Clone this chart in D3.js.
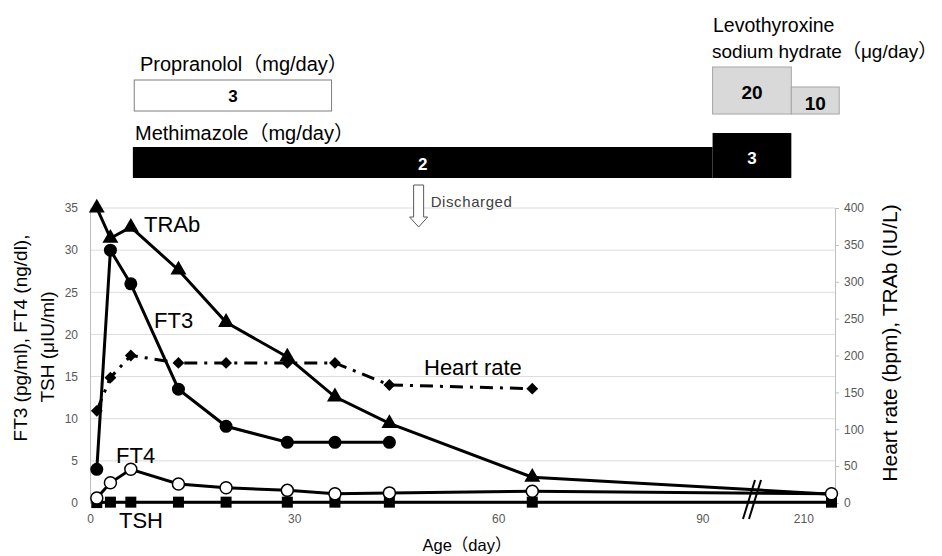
<!DOCTYPE html>
<html>
<head>
<meta charset="utf-8">
<script src="https://cdn.jsdelivr.net/npm/d3@7"></script>
<style>
  body { margin: 0; background: #fff; }
  svg text { font-family: "Liberation Sans", Arial, "Noto Sans CJK JP", sans-serif; }
</style>
</head>
<body>
<div id="chart"></div>
<script>
// sampling days
const days = [1, 3, 6, 13, 20, 29, 36, 44, 65, 214];
// left axis series
const ft3 = [4, 30, 26, 13.5, 9.1, 7.2, 7.2, 7.2];
const ft4 = [0.6, 2.4, 4.0, 2.25, 1.8, 1.5, 1.1, 1.2, 1.4, 1.1];
const tsh = [0.05, 0.1, 0.1, 0.1, 0.1, 0.1, 0.1, 0.1, 0.1, 0.1];
// right axis series
const trab = [400, 359, 374, 316, 245, 198, 144, 108, 35, 12];
const heartRate = [125, 170, 200, 190, 190, 190, 190, 160, 155];

const xTicks = [0, 30, 60, 90, 210];
const leftTicks = [0, 5, 10, 15, 20, 25, 30, 35];
const rightTicks = [0, 50, 100, 150, 200, 250, 300, 350, 400];

// drug periods (day ranges)
const propranolol = [{from: 6.5, to: 35.5, dose: "3"}];
const methimazole = [{from: 6.3, to: 91.5, dose: "2"}, {from: 91.5, to: 208.3, dose: "3"}];
const levothyroxine = [{from: 91.5, to: 208.3, dose: "20"}, {from: 208.3, to: 215.1, dose: "10"}];
const dischargeDay = 48.3;

const width = 942, height = 556;
const svg = d3.select("#chart").append("svg")
    .attr("width", width)
    .attr("height", height);

// broken x axis: 97 -> 203 squeezed out
const x = d3.scaleLinear()
    .domain([0, 97, 203, 214.5])
    .range([90, 750, 754, 835]);
const yL = d3.scaleLinear().domain([0, 35]).range([503, 208]);
const yR = d3.scaleLinear().domain([0, 400]).range([503, 208]);
const xLeft = 90, xRight = 835;

// grid
svg.append("g").selectAll("line")
    .data(leftTicks.slice(1))
    .join("line")
    .attr("x1", xLeft).attr("x2", xRight)
    .attr("y1", d => yL(d)).attr("y2", d => yL(d))
    .attr("stroke", "#dcdcdc").attr("stroke-width", 1);

// left axis
const gL = svg.append("g").attr("transform", `translate(${xLeft},0)`)
    .call(d3.axisLeft(yL).tickValues(leftTicks).tickSize(0).tickPadding(12));
gL.select(".domain").attr("stroke", "#bfbfbf");
gL.selectAll("text").attr("fill", "#595959").style("font-size", "12px");

// right axis
const gR = svg.append("g").attr("transform", `translate(${xRight},0)`)
    .call(d3.axisRight(yR).tickValues(rightTicks).tickSize(4).tickPadding(5));
gR.select(".domain").attr("stroke", "#bfbfbf");
gR.selectAll(".tick line").attr("stroke", "#bfbfbf");
gR.selectAll("text").attr("fill", "#595959").style("font-size", "12px");

// bottom axis
const gB = svg.append("g").attr("transform", `translate(0,${yL(0)})`)
    .call(d3.axisBottom(x).tickValues(xTicks).tickFormat(d3.format("d")).tickSize(0).tickPadding(11));
gB.select(".domain").attr("stroke", "#bfbfbf");
gB.selectAll("text").attr("fill", "#595959").style("font-size", "12px");

// series labels
const labels = [
  {t: "TRAb", x: 144, y: 232},
  {t: "FT3", x: 154, y: 328},
  {t: "FT4", x: 116, y: 463},
  {t: "TSH", x: 119, y: 528},
  {t: "Heart rate", x: 424, y: 375}
];
svg.append("g").selectAll("text").data(labels).join("text")
    .attr("x", d => d.x).attr("y", d => d.y)
    .style("font-size", "22px").attr("fill", "#000")
    .text(d => d.t);

const line = (xs, ys, yScale) => d3.line()(ys.map((v, i) => [x(xs[i]), yScale(v)]));

const lineG = svg.append("g").attr("fill", "none").attr("stroke", "#000").attr("stroke-width", 3);
lineG.append("path").attr("d", line(days, tsh, yL));
lineG.append("path").attr("d", line(days, ft4, yL));
lineG.append("path").attr("d", line(days, ft3, yL));
lineG.append("path").attr("d", line(days, trab, yR));
lineG.append("path").attr("d", line(days, heartRate, yR)).attr("stroke-dasharray", "13,7,3,7");

// break marks
const bx = (x(97) + x(203)) / 2;
[-3, 3].forEach(off => {
  svg.append("line")
      .attr("x1", bx + off + 6).attr("y1", 480)
      .attr("x2", bx + off - 6).attr("y2", 519)
      .attr("stroke", "#000").attr("stroke-width", 2);
});

// markers
svg.append("g").selectAll("rect").data(tsh).join("rect")
    .attr("x", (d, i) => x(days[i]) - 5.5).attr("y", d => yL(d) - 5.5)
    .attr("width", 11).attr("height", 11).attr("fill", "#000");
svg.append("g").selectAll("circle").data(ft4).join("circle")
    .attr("cx", (d, i) => x(days[i])).attr("cy", d => yL(d)).attr("r", 6)
    .attr("fill", "#fff").attr("stroke", "#000").attr("stroke-width", 1.5);
svg.append("g").selectAll("circle").data(ft3).join("circle")
    .attr("cx", (d, i) => x(days[i])).attr("cy", d => yL(d)).attr("r", 6.5)
    .attr("fill", "#000");
svg.append("g").selectAll("path").data(trab.slice(0, 9)).join("path")
    .attr("transform", (d, i) => `translate(${x(days[i])},${yR(d)})`)
    .attr("d", d3.symbol(d3.symbolTriangle, 110))
    .attr("fill", "#000");
svg.append("g").selectAll("path").data(heartRate).join("path")
    .attr("transform", (d, i) => `translate(${x(days[i])},${yR(d)}) rotate(45)`)
    .attr("d", d3.symbol(d3.symbolSquare, 70))
    .attr("fill", "#000");

// axis titles
svg.append("text")
    .attr("transform", "translate(27,338) rotate(-90)")
    .attr("text-anchor", "middle").style("font-size", "19px").attr("fill", "#000")
    .text("FT3 (pg/ml), FT4 (ng/dl),");
svg.append("text")
    .attr("transform", "translate(54,347) rotate(-90)")
    .attr("text-anchor", "middle").style("font-size", "19px").attr("fill", "#000")
    .text("TSH (μIU/ml)");
svg.append("text")
    .attr("transform", "translate(897,343) rotate(-90)")
    .attr("text-anchor", "middle").style("font-size", "21px").attr("fill", "#000")
    .text("Heart rate (bpm), TRAb (IU/L)");
svg.append("text")
    .attr("x", 467).attr("y", 551)
    .attr("text-anchor", "middle").style("font-size", "16.5px")
    .text("Age（day）");

// discharged arrow
const ax = x(dischargeDay);
svg.append("path")
    .attr("d", `M${ax - 5},185 L${ax + 5},185 L${ax + 5},217 L${ax + 9},217 L${ax},227 L${ax - 9},217 L${ax - 5},217 Z`)
    .attr("fill", "#fff").attr("stroke", "#595959").attr("stroke-width", 1);
svg.append("text")
    .attr("x", ax + 12).attr("y", 207)
    .style("font-size", "15px").style("letter-spacing", "0.6px").attr("fill", "#404040")
    .text("Discharged");

// drug bars
svg.append("text").attr("x", 140).attr("y", 71).style("font-size", "20px").text("Propranolol（mg/day）");
svg.append("g").selectAll("rect").data(propranolol).join("rect")
    .attr("x", d => x(d.from)).attr("width", d => x(d.to) - x(d.from))
    .attr("y", 80).attr("height", 31)
    .attr("fill", "#fff").attr("stroke", "#7f7f7f");
svg.append("g").selectAll("text").data(propranolol).join("text")
    .attr("x", d => (x(d.from) + x(d.to)) / 2).attr("y", 102)
    .attr("text-anchor", "middle").style("font-size", "17px").style("font-weight", "bold")
    .text(d => d.dose);

svg.append("text").attr("x", 135).attr("y", 140).style("font-size", "20px").text("Methimazole（mg/day）");
const methTop = [147, 133];
svg.append("g").selectAll("rect").data(methimazole).join("rect")
    .attr("x", d => x(d.from)).attr("width", d => x(d.to) - x(d.from))
    .attr("y", (d, i) => methTop[i]).attr("height", (d, i) => 178 - methTop[i])
    .attr("fill", "#000");
svg.append("g").selectAll("text").data(methimazole).join("text")
    .attr("x", d => (x(d.from) + x(d.to)) / 2).attr("y", (d, i) => [170, 164][i])
    .attr("text-anchor", "middle").attr("fill", "#fff")
    .style("font-size", "17px").style("font-weight", "bold")
    .text(d => d.dose);

svg.append("text").attr("x", 713).attr("y", 32).style("font-size", "19.5px").text("Levothyroxine");
svg.append("text").attr("x", 712).attr("y", 58).style("font-size", "19px").text("sodium hydrate（μg/day）");
const levoTop = [67, 87];
svg.append("g").selectAll("rect").data(levothyroxine).join("rect")
    .attr("x", d => x(d.from)).attr("width", d => x(d.to) - x(d.from))
    .attr("y", (d, i) => levoTop[i]).attr("height", (d, i) => 114 - levoTop[i])
    .attr("fill", "#d9d9d9").attr("stroke", "#a6a6a6");
svg.append("g").selectAll("text").data(levothyroxine).join("text")
    .attr("x", d => (x(d.from) + x(d.to)) / 2).attr("y", (d, i) => [99, 110][i])
    .attr("text-anchor", "middle")
    .style("font-size", "19px").style("font-weight", "bold")
    .text(d => d.dose);
</script>
</body>
</html>
